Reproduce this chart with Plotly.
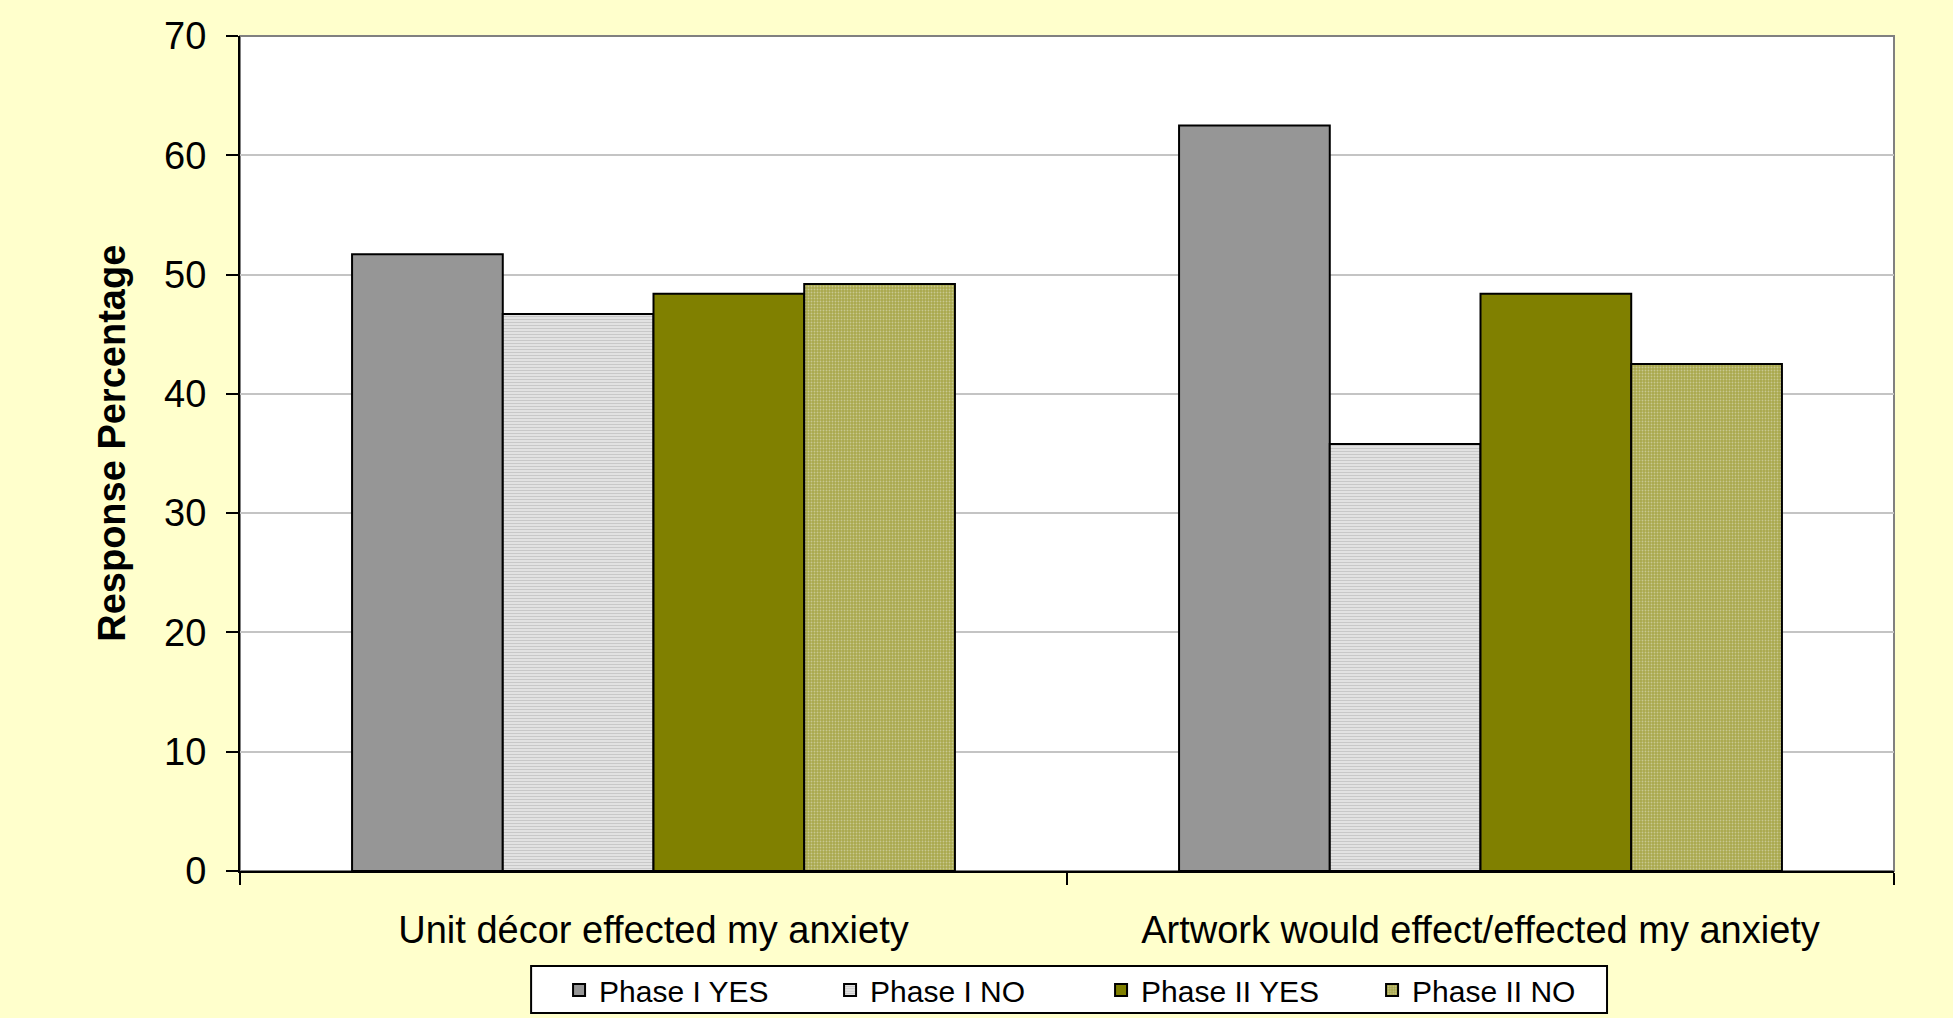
import plotly.graph_objects as go

categories = ["Unit décor effected my anxiety", "Artwork would effect/effected my anxiety"]
series_names = ["Phase I YES", "Phase I NO", "Phase II YES", "Phase II NO"]
phase1_yes = [51.7, 62.5]
phase1_no = [46.7, 35.8]
phase2_yes = [48.4, 48.4]
phase2_no = [49.2, 42.5]
y_ticks = [0, 10, 20, 30, 40, 50, 60, 70]
y_title = "Response Percentage"

series_values = [phase1_yes, phase1_no, phase2_yes, phase2_no]
colors = ["#969696", "#DCDCDC", "#808000", "#B0AF58"]
patterns = [
    dict(shape=""),
    dict(shape="-", fgcolor="#C8C8C8", bgcolor="#E2E2E2", size=3, solidity=0.35, fillmode="replace"),
    dict(shape=""),
    dict(shape=".", fgcolor="#C8C890", bgcolor="#A9A84C", size=3, solidity=0.3, fillmode="replace"),
]

FONT = "Liberation Sans, Arial, sans-serif"

fig = go.Figure()
for name, vals, col, pat in zip(series_names, series_values, colors, patterns):
    fig.add_trace(go.Bar(
        name=name, x=categories, y=vals,
        marker=dict(color=col, line=dict(color="#000000", width=2), pattern=pat),
    ))

fig.update_layout(
    width=1953, height=1018,
    paper_bgcolor="#FFFFCC", plot_bgcolor="#FFFFFF",
    margin=dict(l=240, r=59, t=36, b=147, autoexpand=False),
    barmode="group", bargap=0.271, bargroupgap=0,
    font=dict(family=FONT, color="#000000", size=38),
    showlegend=True,
    legend=dict(
        orientation="h", x=0.1929, xanchor="left", y=-0.1425, yanchor="middle",
        bgcolor="rgba(0,0,0,0)", borderwidth=0,
        font=dict(family=FONT, size=30, color="#000000"),
        entrywidth=226, entrywidthmode="pixels",
        traceorder="normal",
    ),
    shapes=[
        dict(type="rect", xref="paper", yref="paper", x0=0, x1=1, y0=0, y1=1,
             line=dict(color="#808080", width=2), layer="below"),
        dict(type="rect", xref="paper", yref="paper", x0=0.176, x1=0.8265, y0=-0.170, y1=-0.1138,
             line=dict(color="#000000", width=2), fillcolor="#FFFFFF", layer="below"),
    ],
    annotations=[
        dict(text="<b>" + y_title + "</b>", xref="paper", yref="paper", x=-0.0774, y=0.5128,
             xanchor="center", yanchor="middle", textangle=-90, showarrow=False,
             font=dict(family=FONT, size=38, color="#000000")),
    ],
)

fig.update_yaxes(
    range=[0, 70], tickvals=y_ticks, ticktext=[str(v) for v in y_ticks],
    showgrid=True, gridcolor="#C4C4C4", gridwidth=2,
    showline=True, linecolor="#000000", linewidth=2,
    ticks="outside", ticklen=12, tickwidth=2, tickcolor="#000000",
    ticklabelstandoff=12, zeroline=False, automargin=False,
    tickfont=dict(size=38),
)
fig.update_xaxes(
    showline=True, linecolor="#000000", linewidth=2,
    ticks="outside", ticklen=12, tickwidth=2, tickcolor="#000000",
    tickson="boundaries", showgrid=False, automargin=False,
    ticklabelstandoff=24, tickfont=dict(size=38),
)

fig.write_html("out.html", config={"displayModeBar": False},
               post_script="document.body.style.margin='0';document.body.style.overflow='hidden';")
